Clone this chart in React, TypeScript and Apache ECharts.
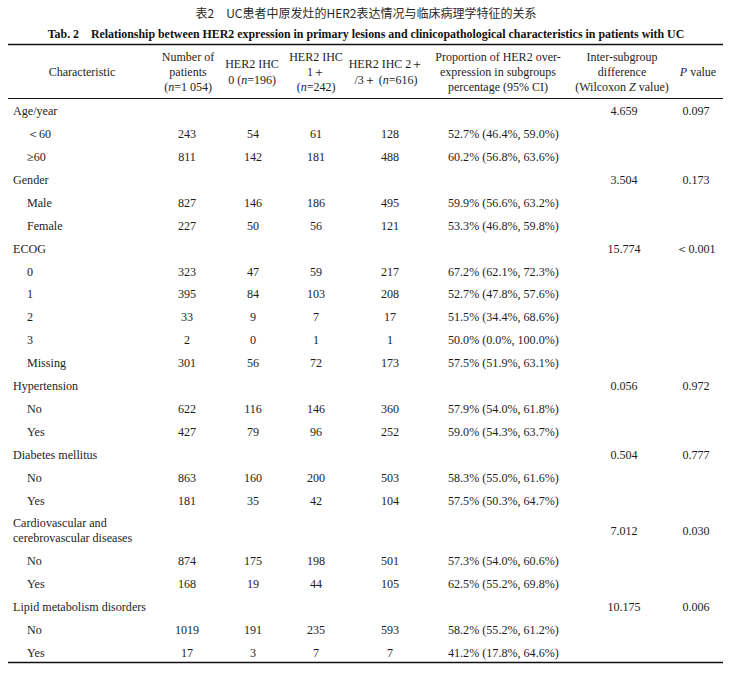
import React, { useEffect, useRef } from "react";
import * as echarts from "echarts";

const titleCn = "表2　UC患者中原发灶的HER2表达情况与临床病理学特征的关系";
const titleEn = "Tab. 2    Relationship between HER2 expression in primary lesions and clinicopathological characteristics in patients with UC";

const characteristics = [
  "Age/year", "＜60", "≥60",
  "Gender", "Male", "Female",
  "ECOG", "0", "1", "2", "3", "Missing",
  "Hypertension", "No", "Yes",
  "Diabetes mellitus", "No", "Yes",
  "Cardiovascular and\ncerebrovascular diseases", "No", "Yes",
  "Lipid metabolism disorders", "No", "Yes",
];
const isGroup = [1, 0, 0, 1, 0, 0, 1, 0, 0, 0, 0, 0, 1, 0, 0, 1, 0, 0, 1, 0, 0, 1, 0, 0];
const nPatients = [null, 243, 811, null, 827, 227, null, 323, 395, 33, 2, 301, null, 622, 427, null, 863, 181, null, 874, 168, null, 1019, 17];
const ihc0 = [null, 54, 142, null, 146, 50, null, 47, 84, 9, 0, 56, null, 116, 79, null, 160, 35, null, 175, 19, null, 191, 3];
const ihc1 = [null, 61, 181, null, 186, 56, null, 59, 103, 7, 1, 72, null, 146, 96, null, 200, 42, null, 198, 44, null, 235, 7];
const ihc23 = [null, 128, 488, null, 495, 121, null, 217, 208, 17, 1, 173, null, 360, 252, null, 503, 104, null, 501, 105, null, 593, 7];
const proportion = [
  "", "52.7% (46.4%, 59.0%)", "60.2% (56.8%, 63.6%)",
  "", "59.9% (56.6%, 63.2%)", "53.3% (46.8%, 59.8%)",
  "", "67.2% (62.1%, 72.3%)", "52.7% (47.8%, 57.6%)", "51.5% (34.4%, 68.6%)", "50.0% (0.0%, 100.0%)", "57.5% (51.9%, 63.1%)",
  "", "57.9% (54.0%, 61.8%)", "59.0% (54.3%, 63.7%)",
  "", "58.3% (55.0%, 61.6%)", "57.5% (50.3%, 64.7%)",
  "", "57.3% (54.0%, 60.6%)", "62.5% (55.2%, 69.8%)",
  "", "58.2% (55.2%, 61.2%)", "41.2% (17.8%, 64.6%)",
];
const zValues = ["4.659", "", "", "3.504", "", "", "15.774", "", "", "", "", "", "0.056", "", "", "0.504", "", "", "7.012", "", "", "10.175", "", ""];
const pValues = ["0.097", "", "", "0.173", "", "", "＜0.001", "", "", "", "", "", "0.972", "", "", "0.777", "", "", "0.030", "", "", "0.006", "", ""];

const headers = [
  "Characteristic",
  "Number of\npatients\n({i|n}=1 054)",
  "HER2 IHC\n0 ({i|n}=196)",
  "HER2 IHC\n1＋\n({i|n}=242)",
  "HER2 IHC 2＋\n/3＋ ({i|n}=616)",
  "Proportion of HER2 over-\nexpression in subgroups\npercentage (95% CI)",
  "Inter-subgroup\ndifference\n(Wilcoxon {i|Z} value)",
  "{i|P} value",
];

const SERIF = "'Liberation Serif', 'Times New Roman', serif";
const TXT = "#1e1e1e";
const FS = 12.1;

export default function App() {
  const ref = useRef<HTMLDivElement>(null);
  useEffect(() => {
    if (!ref.current) return;
    const chart = echarts.init(ref.current, null, { renderer: "svg" });
    const els: any[] = [];
    const rich = { i: { fontStyle: "italic", fontFamily: SERIF, fontSize: 12, fill: TXT } };

    els.push({
      type: "text", x: 366, y: 12,
      style: { text: titleCn, font: "12px 'Noto Sans CJK SC', sans-serif", fill: "#2a2a2a", align: "center", verticalAlign: "middle" },
    });
    els.push({
      type: "text", x: 366, y: 34,
      style: { text: titleEn, fontFamily: SERIF, fontSize: 11.9, fontWeight: "bold", fill: "#111", align: "center", verticalAlign: "middle" },
    });

    const L = 8, R = 723;
    els.push({ type: "line", shape: { x1: L, y1: 44.5, x2: R, y2: 44.5 }, style: { stroke: "#111", lineWidth: 1.4 } });
    els.push({ type: "line", shape: { x1: L, y1: 98.5, x2: R, y2: 98.5 }, style: { stroke: "#111", lineWidth: 1 } });

    const headerX = [82, 188, 252, 316, 386, 498, 622, 698];
    headers.forEach((h, k) => {
      els.push({
        type: "text", x: headerX[k], y: 72,
        style: {
          text: h, fontFamily: SERIF, fontSize: 12, fill: TXT, align: "center", verticalAlign: "middle",
          lineHeight: h.split("\n").length === 2 ? 16 : 15, rich,
        },
      });
    });

    const rowH = 22.94;
    const dblH = 37;
    let y = 99.5;
    const colX = { n: 187, c0: 253, c1: 316, c23: 390, prop: 448, z: 624, p: 696 };
    const numStyle = (t: any, x: number, cy: number, align = "center") => ({
      type: "text", x, y: cy,
      style: { text: String(t), fontFamily: SERIF, fontSize: FS, fill: TXT, align, verticalAlign: "middle" },
    });
    characteristics.forEach((lab, r) => {
      const h = lab.includes("\n") ? dblH : rowH;
      const cy = y + h / 2;
      els.push({
        type: "text", x: isGroup[r] ? 13 : 27, y: cy,
        style: { text: lab, fontFamily: SERIF, fontSize: FS, fill: TXT, align: "left", verticalAlign: "middle", lineHeight: 15 },
      });
      if (nPatients[r] != null) els.push(numStyle(nPatients[r], colX.n, cy));
      if (ihc0[r] != null) els.push(numStyle(ihc0[r], colX.c0, cy));
      if (ihc1[r] != null) els.push(numStyle(ihc1[r], colX.c1, cy));
      if (ihc23[r] != null) els.push(numStyle(ihc23[r], colX.c23, cy));
      if (proportion[r]) els.push(numStyle(proportion[r], colX.prop, cy, "left"));
      if (zValues[r]) els.push(numStyle(zValues[r], colX.z, cy));
      if (pValues[r]) els.push(numStyle(pValues[r], colX.p, cy));
      y += h;
    });
    els.push({ type: "line", shape: { x1: L, y1: 662.5, x2: R, y2: 662.5 }, style: { stroke: "#111", lineWidth: 1.4 } });

    chart.setOption({
      animation: false,
      backgroundColor: "#ffffff",
      graphic: { elements: els },
    });
    return () => chart.dispose();
  }, []);
  return (
    <div
      ref={ref}
      style={{ position: "fixed", left: 0, top: 0, width: 730, height: 674, background: "#fff" }}
    />
  );
}
